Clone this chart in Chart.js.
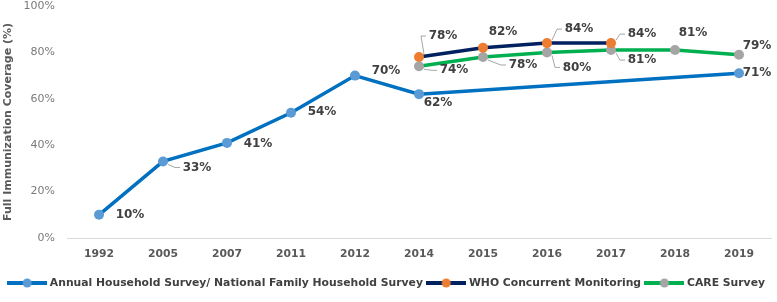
<!DOCTYPE html>
<html>
<head>
<meta charset="utf-8">
<script src="https://cdn.jsdelivr.net/npm/chart.js@4"></script>
<style>
  html, body { margin: 0; padding: 0; background: #fff; }
  #wrap { width: 777px; height: 302px; }
</style>
</head>
<body>
<div id="wrap"><canvas id="chart" width="777" height="302"></canvas></div>
<script>
const years = ['1992', '2005', '2007', '2011', '2012', '2014', '2015', '2016', '2017', '2018', '2019'];

const household = [10, 33, 41, 54, 70, 62, null, null, null, null, 71];
const who = [null, null, null, null, null, 78, 82, 84, 84, null, null];
const care = [null, null, null, null, null, 74, 78, 80, 81, 81, 79];

const yTicks = [0, 20, 40, 60, 80, 100];

// label offsets from the point (dx, dy) and whether a leader line is drawn
const labelPos = [
  [[31, 0], [34, 6, 1], [31, 1], [31, -1], [31, -5], [19, 9], null, null, null, null, [18, 0]],
  [null, null, null, null, null, [24, -21, 1], [20, -16], [32, -14, 1], [31, -9, 1], null, null],
  [null, null, null, null, null, [35, 4, 1], [40, 8, 1], [30, 15, 1], [31, 10, 1], [18, -17], [18, -9]]
];

function legendIcon(lineCol, dotCol) {
  const c = document.createElement('canvas');
  c.width = 40; c.height = 10;
  const g = c.getContext('2d');
  g.strokeStyle = lineCol; g.lineWidth = 4;
  g.beginPath(); g.moveTo(0, 5); g.lineTo(40, 5); g.stroke();
  g.fillStyle = dotCol;
  g.beginPath(); g.arc(20, 5, 4.5, 0, Math.PI * 2); g.fill();
  return c;
}

const icons = [
  legendIcon('#0070C0', '#5B9BD5'),
  legendIcon('#002060', '#ED7D31'),
  legendIcon('#00B050', '#A5A5A5')
];

const pointLabels = {
  id: 'pointLabels',
  afterDatasetsDraw(chart) {
    const ctx = chart.ctx;
    ctx.save();
    ctx.font = 'bold 12px "DejaVu Sans"';
    ctx.fillStyle = '#404040';
    ctx.textAlign = 'center';
    ctx.textBaseline = 'middle';
    chart.data.datasets.forEach((ds, di) => {
      const meta = chart.getDatasetMeta(di);
      ds.data.forEach((v, i) => {
        if (v === null) return;
        const p = labelPos[di][i];
        if (!p) return;
        const pt = meta.data[i];
        const lx = pt.x + p[0], ly = pt.y + p[1];
        if (p[2]) {
          ctx.strokeStyle = '#A6A6A6';
          ctx.lineWidth = 1;
          ctx.beginPath();
          const sx = pt.x + 5, sy = pt.y + (p[1] > 0 ? 3 : -3);
          const ex = lx - 17;
          ctx.moveTo(sx, sy);
          ctx.lineTo(ex - 5, ly);
          ctx.lineTo(ex, ly);
          ctx.stroke();
        }
        ctx.fillText(v + '%', lx, ly);
      });
    });
    ctx.restore();
  }
};

const data = {
  labels: years,
  datasets: [
    {
      label: 'Annual Household Survey/ National Family Household Survey',
      data: household,
      borderColor: '#0070C0',
      backgroundColor: '#5B9BD5',
      pointBackgroundColor: '#5B9BD5',
      pointBorderWidth: 0,
      pointRadius: 5,
      borderWidth: 3.5,
      spanGaps: true,
      order: 3
    },
    {
      label: 'WHO Concurrent Monitoring',
      data: who,
      borderColor: '#002060',
      backgroundColor: '#ED7D31',
      pointBackgroundColor: '#ED7D31',
      pointBorderWidth: 0,
      pointRadius: 5,
      borderWidth: 3.5,
      order: 1
    },
    {
      label: 'CARE Survey',
      data: care,
      borderColor: '#00B050',
      backgroundColor: '#A5A5A5',
      pointBackgroundColor: '#A5A5A5',
      pointBorderWidth: 0,
      pointRadius: 5,
      borderWidth: 3.5,
      order: 2
    }
  ]
};

const config = {
  type: 'line',
  data: data,
  options: {
    responsive: false,
    animation: false,
    layout: { padding: { left: 2, right: 6, top: 6, bottom: 3.6 } },
    plugins: {
      tooltip: { enabled: false },
      legend: {
        position: 'bottom',
        align: 'end',
        labels: {
          usePointStyle: true,
          pointStyleWidth: 34.6,
          boxHeight: 10,
          padding: 6,
          color: '#404040',
          font: { family: '"DejaVu Sans"', weight: 'bold', size: 10.8 },
          generateLabels(chart) {
            return chart.data.datasets.map((ds, i) => ({
              text: ds.label,
              pointStyle: icons[i],
              datasetIndex: i,
              fillStyle: ds.borderColor,
              strokeStyle: ds.borderColor,
              lineWidth: 0,
              fontColor: '#404040'
            }));
          }
        }
      }
    },
    scales: {
      x: {
        offset: true,
        grid: { display: false, drawTicks: false },
        border: { color: '#D9D9D9', width: 1 },
        afterFit(axis) { axis.height = 33.6; },
        ticks: {
          color: '#595959',
          padding: 10,
          font: { family: '"DejaVu Sans"', weight: 'bold', size: 10.8 }
        }
      },
      y: {
        min: 0,
        max: 100,
        afterBuildTicks(axis) { axis.ticks = yTicks.map(v => ({ value: v })); },
        afterFit(axis) {
          axis.width = 65;
          axis.paddingTop = 0;
          axis.paddingBottom = 0;
        },
        grid: { display: false, drawTicks: false },
        border: { display: false },
        title: {
          display: true,
          text: 'Full Immunization Coverage (%)',
          color: '#595959',
          padding: { top: 0, bottom: 0 },
          font: { family: '"DejaVu Sans"', weight: 'bold', size: 11 }
        },
        ticks: {
          color: '#7A7A7A',
          padding: 12,
          callback: v => v + '%',
          font: { family: '"DejaVu Sans"', size: 11 }
        }
      }
    }
  },
  plugins: [pointLabels]
};

new Chart(document.getElementById('chart'), config);
</script>
</body>
</html>
